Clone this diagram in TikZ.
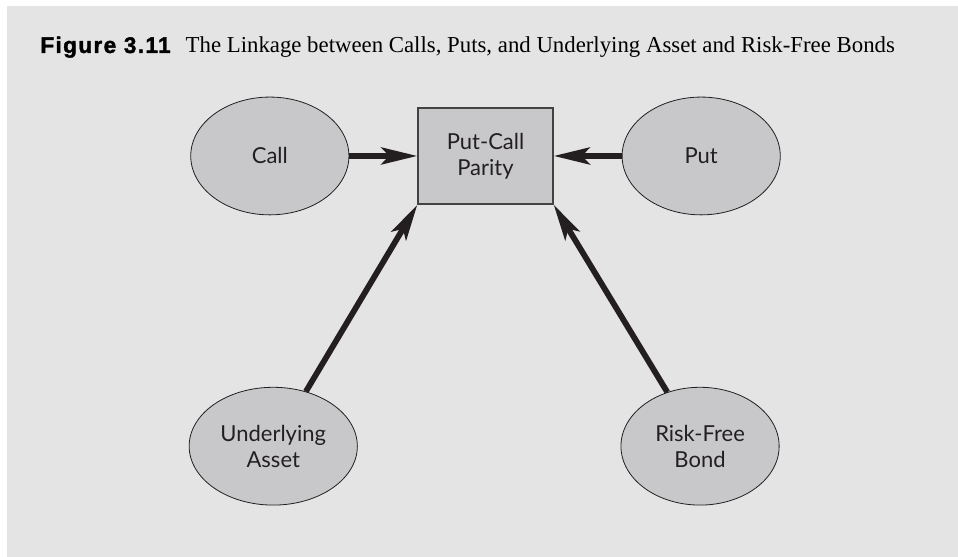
\documentclass[tikz,border=0pt]{standalone}
\usepackage{fontspec}
\setmainfont{Liberation Serif}
\setsansfont{Lato}
\newfontfamily\figlabelfont[LetterSpace=6, FakeBold=1.5]{Liberation Sans}
\usetikzlibrary{arrows.meta, shapes.geometric}
\definecolor{panelgray}{HTML}{E4E4E4}
\definecolor{nodegray}{HTML}{C8C8CA}
\definecolor{inkgray}{HTML}{231F20}
\begin{document}
\begin{tikzpicture}[
        oval/.style={ellipse, draw=inkgray, thin, fill=nodegray, minimum width=2.78cm, minimum height=2.07cm, font=\sffamily\fontsize{11}{13}\selectfont, text=inkgray, align=center},
        box/.style={rectangle, draw=inkgray!85, line width=0.8pt, fill=nodegray, minimum width=2.37cm, minimum height=1.69cm, font=\sffamily\fontsize{11}{13}\selectfont, text=inkgray, align=center},
        link/.style={draw=inkgray, line width=2.9pt},
        >={Stealth[length=18pt, width=8.5pt, inset=4pt]},
        ]
        \useasboundingbox (-8.532,2.741) rectangle (8.303,-7.047);
        \fill[panelgray] (-8.409,2.636) rectangle (8.303,-7.047);

        \node (caption) at (-7.829,1.81) [anchor=base west, inner sep=0pt, text=black] {{\figlabelfont\bfseries\fontsize{11.3}{13}\selectfont Figure 3.11}\hspace{7.5pt}{\fontsize{11.4}{13}\selectfont The Linkage between Calls, Puts, and Underlying Asset and Risk-Free Bonds}};

        \node (parity) at (0,0) [box] {Put-Call\\Parity};
        \node (call) at (-3.79,0) [oval] {Call};
        \node (put) at (3.79,0) [oval] {Put};
        \node (asset) at (-3.73,-5.10) [oval] {Underlying\\Asset};
        \node (bond) at (3.77,-5.10) [oval] {Risk-Free\\Bond};

        \draw[link, ->] (call) -- (parity);
        \draw[link, ->] (put) -- (parity);
        \draw[link, ->] (asset) -- (parity.south west);
        \draw[link, ->] (bond) -- (parity.south east);

    \end{tikzpicture}
\end{document}
